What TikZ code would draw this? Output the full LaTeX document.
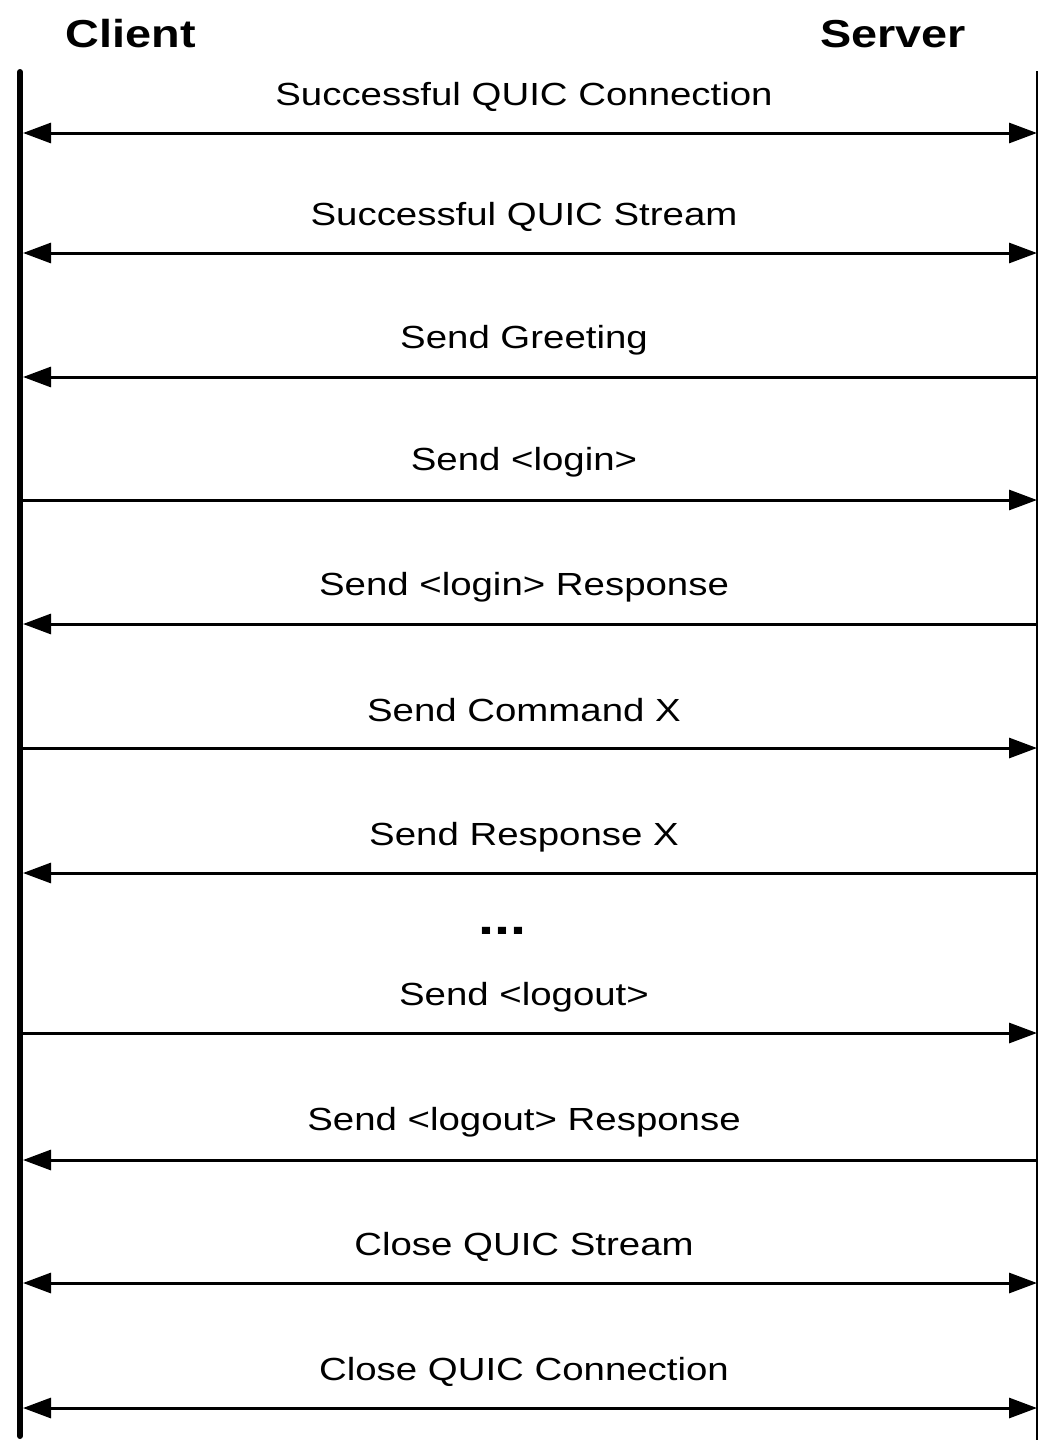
\documentclass[tikz,border=0pt]{standalone}
\usepackage{fontspec}
\setmainfont[FakeStretch=1.2]{Liberation Sans}
\usetikzlibrary{arrows.meta}
\begin{document}
\begin{tikzpicture}[x=1pt,y=-1pt,
  head/.style={anchor=base, inner sep=0pt, font=\fontsize{39}{44}\selectfont\bfseries},
  lbl/.style={anchor=base, inner sep=0pt, font=\fontsize{32}{38}\selectfont},
  tipR/.style={-{Triangle[length=28pt,width=20pt]}},
  tipB/.style={{Triangle[length=28pt,width=20pt]}-{Triangle[length=28pt,width=20pt]}},
  tipL/.style={{Triangle[length=28pt,width=20pt]}-},
  msg/.style={line width=3pt}]
\useasboundingbox (0,0) rectangle (1039,1440);
% headers
\node[head] (client) at (131,47) {Client};
\node[head] (server) at (893,47) {Server};
% lifelines
\coordinate (ctop) at (20,72);
\coordinate (cbot) at (20,1436);
\coordinate (stop) at (1037,71);
\coordinate (sbot) at (1037,1440);
\draw[line width=6pt, line cap=round] (ctop) -- (cbot);
\draw[line width=2.5pt] (stop) -- (sbot);
% message end points
\foreach \i/\y in {1/133,2/253,3/377,4/500,5/624,6/748,7/873,8/1033,9/1160,10/1283,11/1408}{
  \coordinate (c\i) at (23,\y);
  \coordinate (s\i) at (1037,\y);
}
% messages
\draw[msg,tipB] (c1) -- (s1);
\node[lbl] (l1) at (524,105) {Successful QUIC Connection};
\draw[msg,tipB] (c2) -- (s2);
\node[lbl] (l2) at (524,225) {Successful QUIC Stream};
\draw[msg,tipL] (c3) -- (s3);
\node[lbl] (l3) at (524,348) {Send Greeting};
\draw[msg,tipR] (c4) -- (s4);
\node[lbl] (l4) at (524,470) {Send <login>};
\draw[msg,tipL] (c5) -- (s5);
\node[lbl] (l5) at (524,595) {Send <login> Response};
\draw[msg,tipR] (c6) -- (s6);
\node[lbl] (l6) at (524,721) {Send Command X};
\draw[msg,tipL] (c7) -- (s7);
\node[lbl] (l7) at (524,845) {Send Response X};
\node[anchor=base, inner sep=0pt, font=\fontsize{48}{52}\selectfont\bfseries] (dots) at (502,934) {...};
\draw[msg,tipR] (c8) -- (s8);
\node[lbl] (l8) at (524,1005) {Send <logout>};
\draw[msg,tipL] (c9) -- (s9);
\node[lbl] (l9) at (524,1130) {Send <logout> Response};
\draw[msg,tipB] (c10) -- (s10);
\node[lbl] (l10) at (524,1255) {Close QUIC Stream};
\draw[msg,tipB] (c11) -- (s11);
\node[lbl] (l11) at (524,1380) {Close QUIC Connection};
\end{tikzpicture}
\end{document}
